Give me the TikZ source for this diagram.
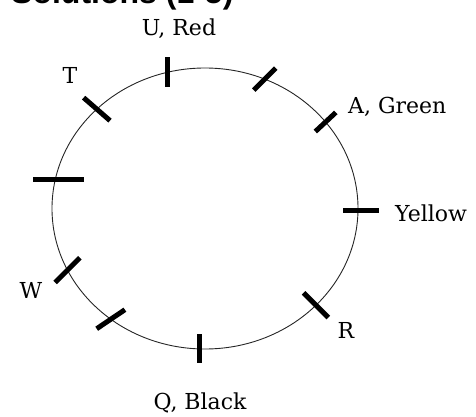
\documentclass[tikz,border=0pt]{standalone}
\usepackage{fontspec}
\setmainfont{DejaVu Serif}
\newfontfamily\titlefont{Liberation Sans}
\usetikzlibrary{calc}

\begin{document}
\begin{tikzpicture}[x=1pt, y=1pt,
    tickmark/.style={rectangle, fill=black, inner sep=0pt, minimum height=5pt},
    seatlabel/.style={font=\fontsize{22}{26}\selectfont, inner sep=0pt, anchor=base}]
    \useasboundingbox (0,0) rectangle (476,416);

    %% Title (cut off at the top edge)
    \node[font=\titlefont\bfseries\fontsize{32}{38}\selectfont, anchor=base west, inner sep=0pt]
          (title) at (11,412) {Solutions (1-5)};

    %% Table
    \coordinate (c) at (205,207.5);
    \draw[black!85, line width=0.9pt] (c) ellipse [x radius=153, y radius=140.5];

    %% Seats
        \node[tickmark, minimum width=30pt, rotate=90]  (sU)  at ($(c)+(104:153 and 140.5)$) {};
        \node[tickmark, minimum width=31pt, rotate=45]  (sUA) at ($(c)+(67:153 and 140.5)$) {};
        \node[tickmark, minimum width=28pt, rotate=43]  (sA)  at ($(c)+(38:153 and 140.5)$) {};
        \node[tickmark, minimum width=36pt, xshift=3pt] (sY)  at ($(c)+(-1:153 and 140.5)$) {};
        \node[tickmark, minimum width=35pt, rotate=-45] (sR)  at ($(c)+(-43.5:153 and 140.5)$) {};
        \node[tickmark, minimum width=29pt, rotate=90]  (sQ)  at ($(c)+(-92:153 and 140.5)$) {};
        \node[tickmark, minimum width=34pt, rotate=34]  (sQW) at ($(c)+(-128:153 and 140.5)$) {};
        \node[tickmark, minimum width=35pt, rotate=45]  (sW)  at ($(c)+(-154:153 and 140.5)$) {};
        \node[tickmark, minimum width=51pt, xshift=3pt] (sL)  at ($(c)+(168:153 and 140.5)$) {};
        \node[tickmark, minimum width=35pt, rotate=-41] (sT)  at ($(c)+(135:153 and 140.5)$) {};

    %% Labels
        \node[seatlabel] (lU) at (179,380) {U, Red};
        \node[seatlabel] (lT) at (70,333) {T};
        \node[seatlabel, anchor=base west] (lA) at (348,303) {A, Green};
        \node[seatlabel, anchor=base west] (lY) at (395,195) {Yellow};
        \node[seatlabel] (lW) at (31,118) {W};
        \node[seatlabel] (lR) at (346,78) {R};
        \node[seatlabel] (lQ) at (200,7) {Q, Black};
\end{tikzpicture}
\end{document}
